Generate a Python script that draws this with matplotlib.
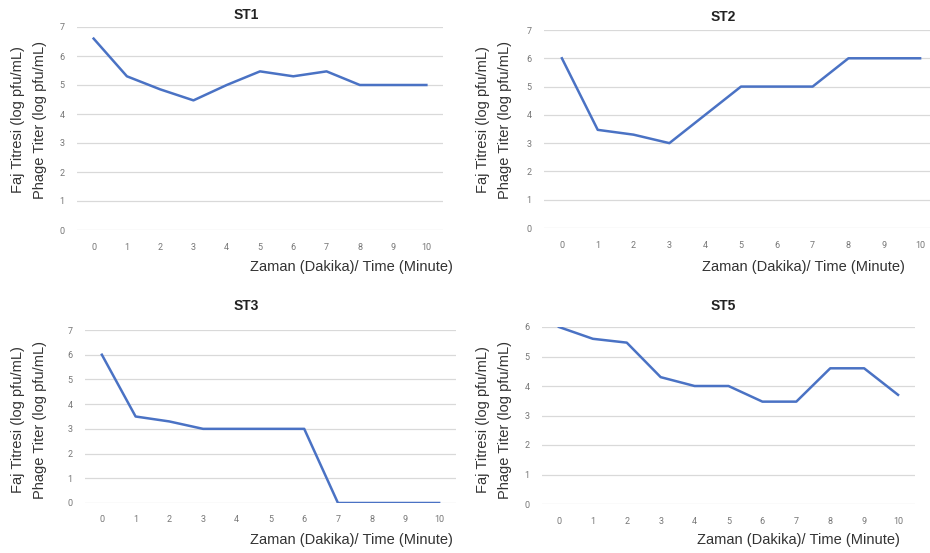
import matplotlib.pyplot as plt

plt.rcParams['font.family'] = ['Roboto', 'DejaVu Sans']

# time points (minutes)
minutes = [0, 1, 2, 3, 4, 5, 6, 7, 8, 9, 10]

# phage titer, log pfu/mL
st1 = [6.6, 5.3, 4.85, 4.47, 5.0, 5.47, 5.3, 5.47, 5.0, 5.0, 5.0]
st2 = [6.0, 3.47, 3.3, 3.0, 4.0, 5.0, 5.0, 5.0, 6.0, 6.0, 6.0]
st3 = [6.0, 3.5, 3.3, 3.0, 3.0, 3.0, 3.0, 0.0, 0.0, 0.0, 0.0]
st5 = [6.0, 5.6, 5.47, 4.3, 4.0, 4.0, 3.47, 3.47, 4.6, 4.6, 3.7]

titles = ['ST1', 'ST2', 'ST3', 'ST5']
ymax = [7, 7, 7, 6]
ylabel_1 = 'Faj Titresi (log pfu/mL)'
ylabel_2 = 'Phage Titer (log pfu/mL)'
xlabel = 'Zaman (Dakika)/ Time (Minute)'

W, H = 930, 553
fig = plt.figure(figsize=(W / 100, H / 100), dpi=100)
fig.patch.set_facecolor('white')

# pixel boxes: left, right, top(ymax), bottom(0)
boxes = [(77, 443, 27, 230), (544, 938, 30, 228), (85, 456, 330, 503), (542, 915, 327, 504)]
title_pos = [(246, 15), (723, 17), (246, 306), (723, 306)]
ylab_x = [(18, 40), (483, 505), (18, 40), (483, 505)]
ylab_y = [120, 120, 420, 420]
xlab_pos = [(453, 267), (905, 267), (453, 540), (900, 540)]

series = [st1, st2, st3, st5]
line_color = '#4a72c4'
label_font = ['Liberation Sans', 'DejaVu Sans']

for i, vals in enumerate(series):
    l, r, t, b = boxes[i]
    ax = fig.add_axes([l / W, 1 - b / H, (r - l) / W, (b - t) / H])
    ax.plot(minutes, vals, color=line_color, linewidth=1.8, solid_joinstyle='round')
    ax.set_xlim(-0.5, 10.5)
    ax.set_ylim(0, ymax[i])
    ax.set_xticks(minutes)
    ax.set_yticks(range(0, ymax[i] + 1))
    ax.grid(axis='y', color='#d9d9d9', linewidth=0.9)
    ax.set_axisbelow(True)
    for s in ax.spines.values():
        s.set_visible(False)
    ax.tick_params(length=0, labelsize=6.5, labelcolor='#777777')
    ax.tick_params(axis='x', pad=9)
    ax.tick_params(axis='y', pad=9)
    ax.patch.set_alpha(0)

    tx, ty = title_pos[i]
    fig.text(tx / W, 1 - ty / H, titles[i], ha='center', va='center',
             fontsize=10, fontweight='bold', color='#222222', family=label_font)
    x1, x2 = ylab_x[i]
    fig.text(x1 / W, 1 - ylab_y[i] / H, ylabel_1, rotation=90, ha='center', va='center',
             fontsize=10.5, color='#333333', family=label_font)
    fig.text(x2 / W, 1 - ylab_y[i] / H, ylabel_2, rotation=90, ha='center', va='center',
             fontsize=10.5, color='#333333', family=label_font)
    lx, ly = xlab_pos[i]
    fig.text(lx / W, 1 - ly / H, xlabel, ha='right', va='center',
             fontsize=10.5, color='#333333', family=label_font)

fig.savefig('out.png', dpi=100)
